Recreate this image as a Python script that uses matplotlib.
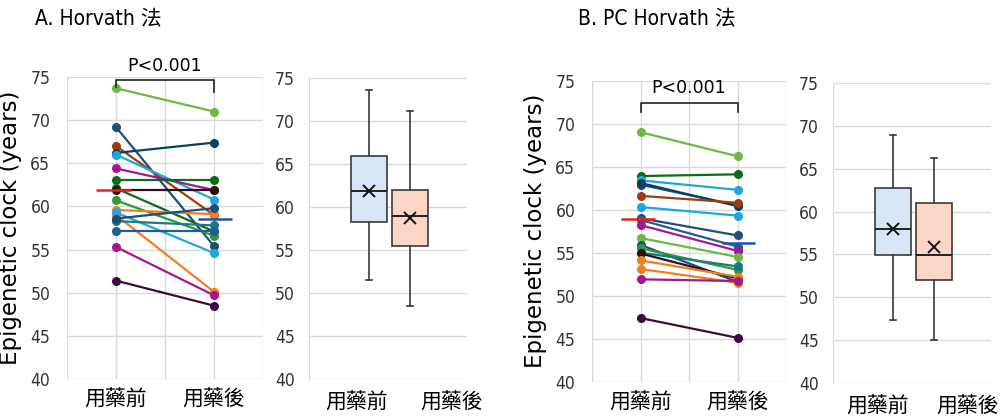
import numpy as np
import matplotlib
matplotlib.use('Agg')
import matplotlib.pyplot as plt

plt.rcParams['font.family'] = ['DejaVu Sans', 'Noto Sans CJK TC']

# ---- data ----
groups = ['用藥前', '用藥後']

# A. Horvath
before_A = [73.7, 69.2, 67.0, 66.2, 66.0, 64.4, 63.1, 62.1, 61.9, 60.7, 59.6, 59.0, 59.3, 58.3, 58.6, 57.2, 55.3, 51.4]
after_A = [71.0, 55.4, 59.0, 67.4, 60.8, 61.9, 63.1, 57.1, 61.9, 56.6, 59.1, 50.1, 54.6, 57.8, 59.8, 57.2, 49.7, 48.5]
mean_A = [61.9, 58.5]
box_A_pre = [51.5, 58.3, 61.8, 65.9, 73.6, 61.9]   # whislo, q1, med, q3, whishi, mean
box_A_post = [48.5, 55.5, 59.0, 62.0, 71.1, 58.7]

# B. PC Horvath
before_B = [69.0, 63.9, 63.4, 62.9, 63.1, 61.6, 60.3, 59.0, 58.8, 58.2, 56.7, 55.9, 55.5, 55.0, 54.9, 54.1, 53.1, 51.9, 47.4]
after_B = [66.2, 64.1, 62.3, 60.5, 60.4, 60.8, 59.3, 57.0, 55.7, 55.2, 54.5, 51.6, 53.0, 53.4, 52.0, 52.2, 51.5, 51.7, 45.1]
mean_B = [58.9, 56.1]
box_B_pre = [47.3, 54.9, 58.0, 62.8, 69.0, 58.0]
box_B_post = [45.0, 52.0, 54.9, 61.0, 66.3, 55.9]

p_text = 'P<0.001'

# colours
lgreen, navy, rust, navy2, lblue = '#6db843', '#1f4e79', '#9b3d12', '#0e3f5e', '#1ea7dc'
magenta, dkgreen, black, green, orange = '#a3178f', '#0b6b1f', '#2e1010', '#2f9a36', '#f07f22'
teal, blue2, dkpurple = '#1a7a86', '#245b97', '#3d0b3f'
colors_A = [lgreen, navy, rust, navy2, lblue, magenta, dkgreen, dkgreen, black, green,
            orange, orange, lblue, teal, navy, blue2, magenta, dkpurple]
colors_B = [lgreen, dkgreen, lblue, navy, navy2, rust, lblue, navy, blue2, magenta,
            lgreen, navy, green, teal, black, orange, orange, magenta, dkpurple]

grid_c = '#d9d9d9'
cjk_font = ['Noto Sans CJK TC']

fig = plt.figure(figsize=(10, 4.2), dpi=100)


def style_yticks(ax):
    for lab in ax.get_yticklabels():
        lab.set_fontstretch('condensed')
        lab.set_fontsize(12.5)
        lab.set_color('#333333')


def paired(rect, pre, post, cols, means, bracket, text_y):
    ax = fig.add_axes(rect)
    for b, a, c in zip(pre, post, cols):
        ax.plot([1, 2], [b, a], color=c, lw=1.6, marker='o', ms=5.5, zorder=3)
    ax.hlines(means[0], 1 - 0.2, 1 + 0.15, color='#e8201c', lw=1.8, zorder=5)
    ax.hlines(means[1], 2 - 0.16, 2 + 0.18, color='#2050b0', lw=1.8, zorder=5)
    ax.set_xlim(0.5, 2.5)
    ax.set_ylim(40, 75)
    ax.set_yticks(np.arange(40, 76, 5))
    ax.set_xticks([1, 2])
    ax.set_xticks([0.5, 1.5, 2.5], minor=True)
    ax.set_xticklabels(groups, fontsize=15, family=cjk_font)
    ax.grid(True, which='both', color=grid_c, lw=1)
    ax.set_axisbelow(True)
    for s in ax.spines.values():
        s.set_visible(False)
    ax.tick_params(which='both', length=0)
    ax.tick_params(axis='y', pad=12)
    ax.tick_params(axis='x', pad=7)
    style_yticks(ax)
    # significance bracket
    top, l_end, r_end = bracket
    ax.plot([1, 1, 2, 2], [l_end, top, top, r_end], color='#222222', lw=1.2, clip_on=False, zorder=6)
    ax.text(1.5, text_y, p_text, ha='center', va='center', fontsize=12.5, clip_on=False)
    return ax


def boxes(rect, pre, post, lab_x):
    ax = fig.add_axes(rect)
    stats = []
    for s in (pre, post):
        stats.append(dict(whislo=s[0], q1=s[1], med=s[2], q3=s[3], whishi=s[4], mean=s[5]))
    bp = ax.bxp(stats, positions=[1, 2], widths=0.88, capwidths=0.15, patch_artist=True,
                showmeans=True, showfliers=False,
                boxprops=dict(edgecolor='#3a3a3a', lw=1.2),
                whiskerprops=dict(color='#3a3a3a', lw=1.2),
                capprops=dict(color='#3a3a3a', lw=1.2),
                medianprops=dict(color='#222222', lw=1.4),
                meanprops=dict(marker='x', markeredgecolor='#111111', markersize=9, markeredgewidth=1.4))
    for patch, fc in zip(bp['boxes'], ['#d7e5f4', '#fbd6c6']):
        patch.set_facecolor(fc)
    ax.set_xlim(-0.46, 3.39)
    ax.set_ylim(40, 75)
    ax.set_yticks(np.arange(40, 76, 5))
    ax.yaxis.grid(True, color=grid_c, lw=1)
    ax.set_axisbelow(True)
    for k in ('top', 'right', 'bottom'):
        ax.spines[k].set_visible(False)
    ax.spines['left'].set_color(grid_c)
    ax.set_xticks([])
    ax.tick_params(length=0, pad=10)
    style_yticks(ax)
    for x, g in zip(lab_x, groups):
        ax.text(x, -0.08, g, transform=ax.transAxes, ha='center', va='center',
                fontsize=15, family=cjk_font)
    return ax


axA = paired([0.067, 0.0976, 0.196, 0.719], before_A, after_A, colors_A, mean_A, (74.6, 73.9, 73.3), 76.3)
axA.set_ylabel('Epigenetic clock (years)', fontsize=16.5, labelpad=6)
boxes([0.309, 0.0976, 0.158, 0.717], box_A_pre, box_A_post, [0.30, 0.90])

axB = paired([0.592, 0.0912, 0.194, 0.717], before_B, after_B, colors_B, mean_B, (72.4, 71.3, 71.3), 74.1)
axB.set_ylabel('Epigenetic clock (years)', fontsize=16.5, labelpad=6)
boxes([0.833, 0.0881, 0.158, 0.714], box_B_pre, box_B_post, [0.28, 0.85])

fig.text(0.035, 0.955, 'A. Horvath 法', fontsize=15, va='center', fontstretch='condensed')
fig.text(0.578, 0.955, 'B. PC Horvath 法', fontsize=15, va='center', fontstretch='condensed')

fig.savefig('out.png', dpi=100)
